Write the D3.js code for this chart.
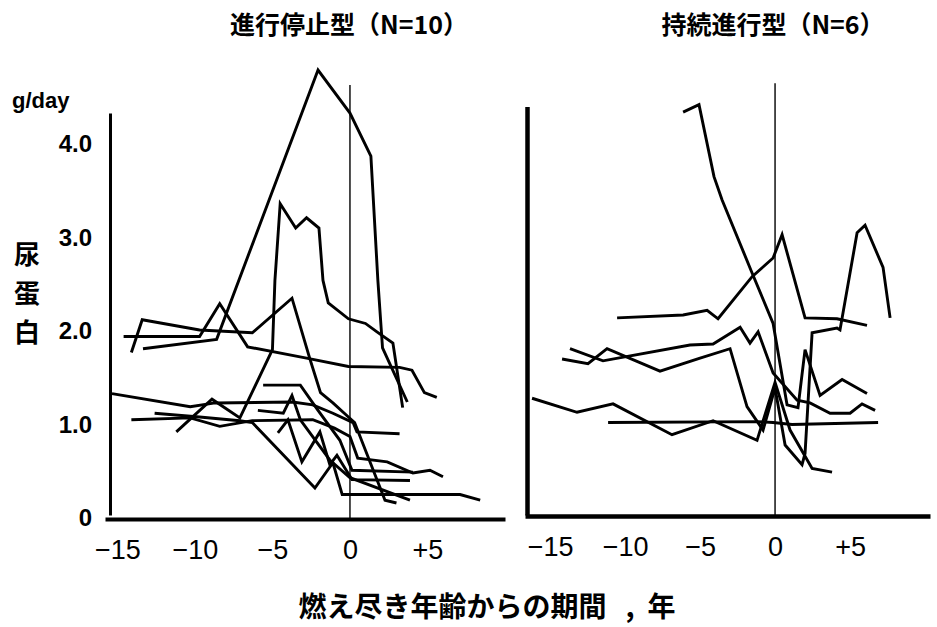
<!DOCTYPE html>
<html>
<head>
<meta charset="utf-8">
<script src="https://cdn.jsdelivr.net/npm/d3@7"></script>
<style>
  body { margin: 0; background: #fff; }
  svg { display: block; }
  text { fill: #000; }
  .num { font-family: "Liberation Sans", Arial, sans-serif; }
  .cjk { font-family: "Noto Sans CJK JP", sans-serif; font-weight: bold; }
  .patient { fill: none; stroke: #000; stroke-width: 2.9; stroke-linejoin: miter; }
</style>
</head>
<body>
<div id="chart"></div>
<script>
const WIDTH = 937, HEIGHT = 627;
const Y_BOTTOM = 517, Y_TOP = 143;

const xTicks = [-15, -10, -5, 0, 5];
const xTickLabels = ['\u221215', '\u221210', '\u22125', '0', '+5'];
const yTicks = [0, 1, 2, 3, 4];
const yTickLabels = ['0', '1.0', '2.0', '3.0', '4.0'];

// 進行停止型: [years from burn-out, g/day]
const stopped1 = [[-14.6, 1.93], [-9.7, 1.93], [-8.4, 2.28], [-6.6, 1.82], [-2.8, 1.70], [-0.1, 1.61], [3.2, 1.60], [4.0, 1.57], [4.8, 1.33], [5.6, 1.28]];
const stopped2 = [[-13.35, 1.80], [-8.6, 1.90], [-2.06, 4.78], [0, 4.32], [1.35, 3.86], [1.8, 2.53], [2.1, 1.81], [3.7, 1.23]];
const stopped3 = [[-14.1, 1.76], [-13.4, 2.11], [-9.7, 2.0], [-6.3, 1.97], [-3.74, 2.34], [-2.6, 1.70], [-1.9, 1.33], [-1.1, 1.22], [-0.1, 1.07], [0.3, 1.01], [2.26, 0.18], [3.0, 0.15]];
const stopped4 = [[-11.2, 0.91], [-8.9, 1.26], [-7.1, 1.06], [-5.0, 1.79], [-4.84, 2.53], [-4.5, 3.35], [-3.5, 3.09], [-2.8, 3.20], [-2.0, 3.09], [-1.74, 2.53], [-1.4, 2.29], [-0.1, 2.12], [1.0, 2.07], [1.74, 1.98], [2.77, 1.86], [3.4, 1.17]];
const stopped5 = [[-15.35, 1.32], [-10.3, 1.18], [-8.7, 1.22], [-3.7, 1.23], [-2.4, 1.20], [-1.1, 1.11], [0.2, 1.01], [0.45, 0.91], [3.2, 0.89]];
const stopped6 = [[-14.1, 1.04], [-10.3, 1.06], [-8.4, 0.97], [-6.3, 1.03], [-2.4, 1.04], [-1.0, 0.95], [0, 0.86], [0.5, 0.63], [2.4, 0.59], [4.06, 0.47], [5.16, 0.50], [6.0, 0.43]];
const stopped7 = [[-12.6, 1.11], [-9.7, 1.07], [-7.1, 1.03], [-6.3, 1.01], [-2.26, 0.31], [-1.1, 0.58], [-0.5, 0.24], [7.1, 0.24], [8.4, 0.18]];
const stopped8 = [[-5.6, 1.41], [-3.2, 1.41], [-2.06, 1.14], [-0.65, 0.82], [0.13, 0.50], [4.06, 0.48]];
const stopped9 = [[-4.65, 0.90], [-4.0, 1.04], [-3.1, 0.59], [-1.94, 0.91], [-1.3, 0.56], [-0.84, 0.66], [0.13, 0.40], [3.87, 0.39]];
const stopped10 = [[-5.94, 1.14], [-4.3, 1.11], [-3.74, 1.30], [-3.2, 1.04], [-1.3, 0.61], [0, 0.42], [3.87, 0.18]];

// 持続進行型
const progressive1 = [[-6.13, 4.33], [-5.07, 4.41], [-4.07, 3.64], [-3.53, 3.39], [-1.53, 2.61], [-0.13, 2.07], [0.8, 1.20], [1.53, 1.17], [2.0, 1.79], [3.0, 1.30], [4.47, 1.47], [6.13, 1.32]];
const progressive2 = [[-10.53, 2.13], [-6.13, 2.16], [-4.53, 2.21], [-3.8, 2.12], [-1.53, 2.57], [-0.13, 2.77], [0.47, 3.02], [2.0, 2.13], [4.13, 2.12], [6.13, 2.05]];
const progressive3 = [[-13.67, 1.80], [-11.47, 1.67], [-5.67, 1.84], [-4.13, 1.85], [-2.33, 2.03], [-1.67, 1.86], [-1.13, 1.98], [-0.13, 1.54], [1.47, 1.25], [2.33, 1.22], [3.67, 1.11], [5.0, 1.11], [5.8, 1.21], [6.67, 1.14]];
const progressive4 = [[-14.2, 1.69], [-12.47, 1.64], [-11.2, 1.80], [-7.67, 1.56], [-5.0, 1.70], [-3.0, 1.80], [-1.87, 1.18], [-0.8, 0.93], [0, 1.38], [0.67, 0.77], [1.8, 0.56], [2.0, 0.68], [2.47, 1.97], [4.13, 2.02], [4.33, 2.0], [5.47, 3.04], [6.0, 3.12], [7.2, 2.67], [7.67, 2.13]];
const progressive5 = [[-16.2, 1.27], [-13.2, 1.12], [-10.8, 1.21], [-6.87, 0.88], [-4.13, 1.03], [-1.2, 0.82], [0, 1.44], [1.0, 0.93], [2.47, 0.52], [3.8, 0.48]];
const progressive6 = [[-11.13, 1.01], [-1.2, 1.02], [-0.13, 1.01], [1.13, 0.99], [6.87, 1.01]];

const stoppedSeries = [stopped1, stopped2, stopped3, stopped4, stopped5, stopped6, stopped7, stopped8, stopped9, stopped10];
const progressiveSeries = [progressive1, progressive2, progressive3, progressive4, progressive5, progressive6];

const panels = [
    {
        title: '進行停止型（N=10）', titleX: 349, series: stoppedSeries,
        xDomain: [-15.8, 10], xRange: [105, 505], xAxisY: 519, xAxisWidth: 4,
        yAxisX: 110, yAxisTopVal: 4.32, yAxisWidth: 3, zeroTopVal: 4.62, labels: true
    },
    {
        title: '持続進行型（N=6）', titleX: 773, series: progressiveSeries,
        xDomain: [-16.67, 10.33], xRange: [525, 930], xAxisY: 516, xAxisWidth: 4.5,
        yAxisX: 527, yAxisTopVal: 4.39, yAxisWidth: 4.5, zeroTopVal: 4.64, labels: false
    }
];

const svg = d3.select('#chart').append('svg')
    .attr('width', WIDTH)
    .attr('height', HEIGHT);

const y = d3.scaleLinear().domain([0, 4]).range([Y_BOTTOM, Y_TOP]);

function drawPanel(p) {
    const x = d3.scaleLinear().domain(p.xDomain).range(p.xRange);
    const g = svg.append('g');

    // x axis with tick labels below
    const xAxis = d3.axisBottom(x)
        .tickValues(xTicks)
        .tickSize(0)
        .tickPadding(21)
        .tickFormat((d, i) => xTickLabels[i]);
    const xg = g.append('g')
        .attr('transform', `translate(0, ${p.xAxisY})`)
        .call(xAxis);
    xg.select('.domain').attr('stroke', '#000').attr('stroke-width', p.xAxisWidth);
    xg.selectAll('text')
        .attr('class', 'num')
        .attr('font-size', 27)
        .attr('fill', '#000');

    // y axis
    const ySub = y.copy().domain([0, p.yAxisTopVal]).range([Y_BOTTOM - 2, y(p.yAxisTopVal)]);
    const yAxis = d3.axisLeft(ySub).tickValues([]).tickSize(0);
    const yg = g.append('g')
        .attr('transform', `translate(${p.yAxisX}, 0)`)
        .call(yAxis);
    yg.select('.domain').attr('stroke', '#000').attr('stroke-width', p.yAxisWidth);

    // burn-out reference line at year 0
    g.append('line')
        .attr('x1', x(0)).attr('x2', x(0))
        .attr('y1', y(p.zeroTopVal)).attr('y2', p.xAxisY)
        .attr('stroke', '#000')
        .attr('stroke-width', 1.4);

    const line = d3.line()
        .x(d => x(d[0]))
        .y(d => y(d[1]));

    g.selectAll('.patient')
        .data(p.series)
        .enter().append('path')
            .attr('class', 'patient')
            .attr('d', line);

    svg.append('text')
        .attr('class', 'cjk')
        .attr('x', p.titleX)
        .attr('y', 34)
        .attr('text-anchor', 'middle')
        .attr('font-size', 25)
        .text(p.title);

    if (p.labels) {
        yTicks.forEach((t, i) => {
            svg.append('text')
                .attr('class', 'num')
                .attr('x', 92)
                .attr('y', y(t) + 9)
                .attr('text-anchor', 'end')
                .attr('font-weight', 'bold')
                .attr('font-size', 24)
                .text(yTickLabels[i]);
        });
    }
}

panels.forEach(drawPanel);

// unit and axis titles
svg.append('text')
    .attr('class', 'num')
    .attr('x', 12)
    .attr('y', 108)
    .attr('font-weight', 'bold')
    .attr('font-size', 22)
    .text('g/day');

['尿', '蛋', '白'].forEach((c, i) => {
    svg.append('text')
        .attr('class', 'cjk')
        .attr('x', 27)
        .attr('y', 264 + i * 39)
        .attr('text-anchor', 'middle')
        .attr('font-size', 26)
        .text(c);
});

svg.append('text')
    .attr('class', 'cjk')
    .attr('x', 487)
    .attr('y', 617)
    .attr('text-anchor', 'middle')
    .attr('font-size', 28)
    .text('燃え尽き年齢からの期間\u00a0\u00a0\u00a0,\u00a0\u00a0年');
</script>
</body>
</html>
